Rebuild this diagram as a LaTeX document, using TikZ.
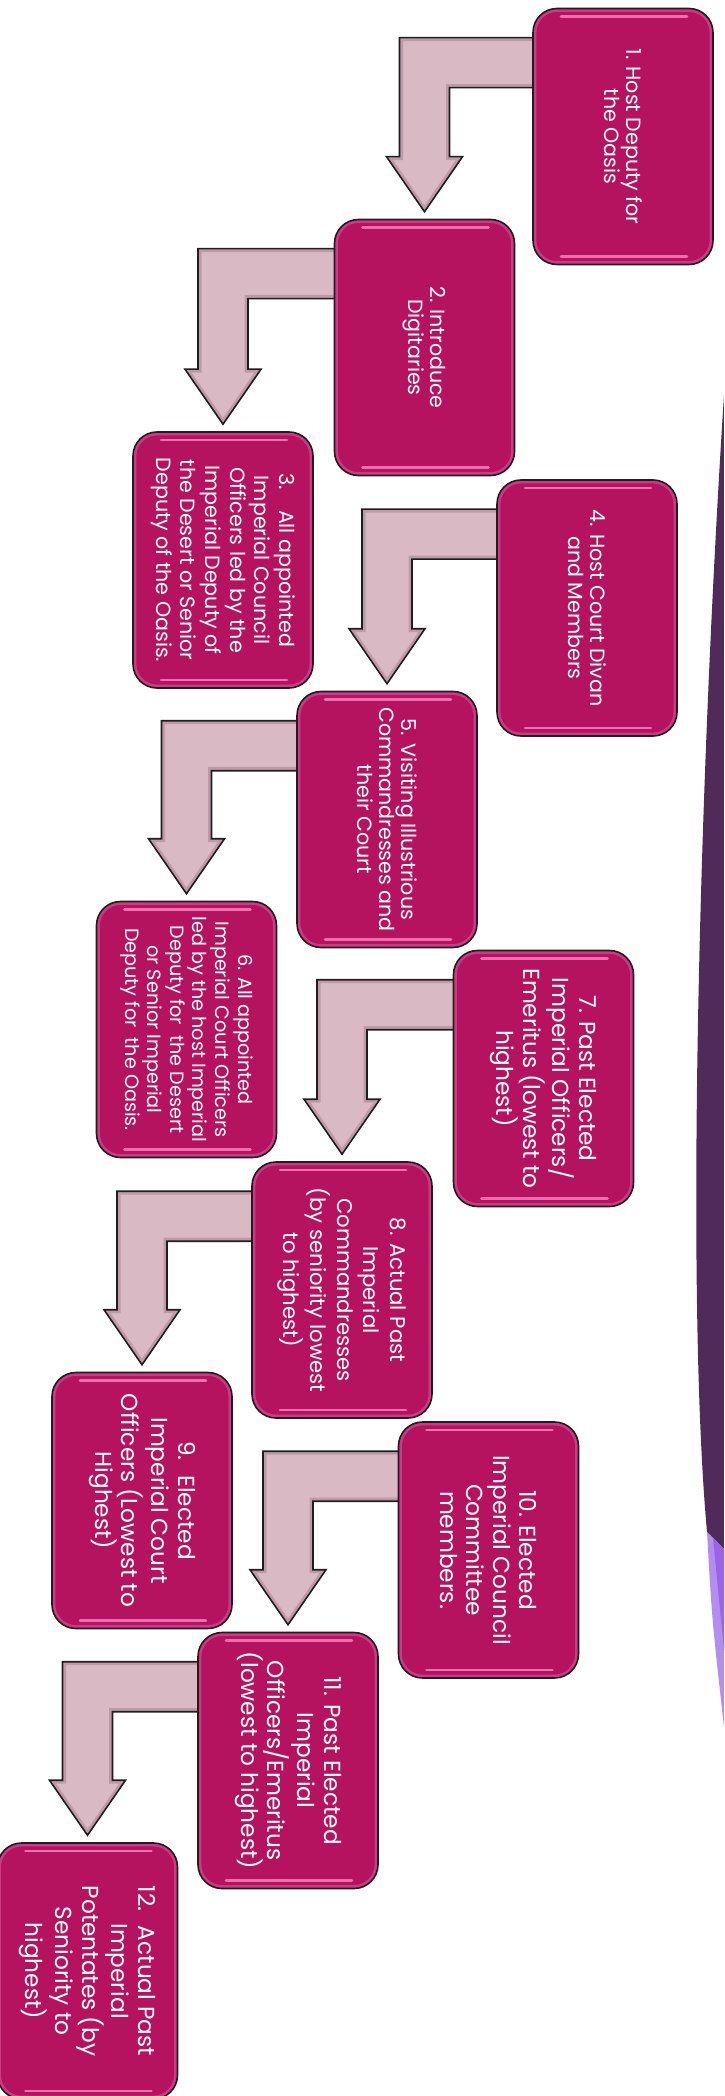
\documentclass[tikz,border=0pt]{standalone}
\usepackage{fontspec}
\setmainfont{Poppins}
\usetikzlibrary{calc,backgrounds}

\definecolor{boxfill}{RGB}{181,18,96}
\definecolor{boxline}{RGB}{30,30,30}
\definecolor{boxrim}{RGB}{204,58,130}
\definecolor{glosspink}{RGB}{236,112,176}
\definecolor{arrowfill}{RGB}{217,185,195}
\definecolor{arrowshade}{RGB}{190,154,168}
\definecolor{arrowline}{RGB}{30,30,30}
\definecolor{wedgedark}{RGB}{80,42,88}
\definecolor{wedgemid}{RGB}{112,52,106}
\definecolor{wedgelight}{RGB}{180,142,236}
\definecolor{wedgeviolet}{RGB}{155,100,232}

\tikzset{
  gloss/.style={draw=glosspink, line width=1.3pt, line cap=round},
  stepbox/.style={draw=boxline, line width=0.8pt, fill=boxfill, rounded corners=12pt,
    minimum width=90pt, minimum height=128pt, inner sep=0pt,
    path picture={
      \draw[boxrim, line width=1.4pt, rounded corners=11pt]
        ([shift={(1pt,-1pt)}]path picture bounding box.north west) rectangle
        ([shift={(-1pt,1pt)}]path picture bounding box.south east);
      \draw[gloss] ([shift={(14pt,-4pt)}]path picture bounding box.north west) --
        ([shift={(-13pt,-4pt)}]path picture bounding box.north east);
      \draw[gloss] ([shift={(14pt,4pt)}]path picture bounding box.south west) --
        ([shift={(-13pt,4pt)}]path picture bounding box.south east);
    }},
  boxtext/.style={rotate=-90, text=white, align=center, inner sep=0pt},
  smalltext/.style={font=\fontsize{10.3}{11}\selectfont},
  midtext/.style={font=\fontsize{10.3}{12.3}\selectfont},
  bigtext/.style={font=\fontsize{11.6}{13.3}\selectfont},
  bentarrow/.style={draw=arrowline, line width=0.8pt, line join=miter}
}

\begin{document}
\begin{tikzpicture}[x=0.5pt, y=-0.5pt]
  \useasboundingbox (0,0) rectangle (724,2096);

  % boxes
  \node[stepbox] (b1) at (623,136.5) {};
  \node[stepbox] (b2) at (424.5,347.5) {};
  \node[stepbox] (b3) at (223,560) {};
  \node[stepbox] (b4) at (587,608) {};
  \node[stepbox] (b5) at (387,819.5) {};
  \node[stepbox] (b6) at (186.5,1029.5) {};
  \node[stepbox] (b7) at (543.5,1078.5) {};
  \node[stepbox] (b8) at (342,1290) {};
  \node[stepbox] (b9) at (142,1500.5) {};
  \node[stepbox] (b10) at (488.5,1550) {};
  \node[stepbox] (b11) at (288,1760.5) {};
  \node[stepbox] (b12) at (87.5,1971) {};

  % texts
  \node[boxtext, smalltext] (t1) at (b1) {1. Host Deputy for\\the Oasis};
  \node[boxtext, smalltext] (t2) at (b2) {2. Introduce\\Digitaries};
  \node[boxtext, midtext] (t3) at (b3) {3.\quad All appointed\\Imperial Council\\Officers led by the\\Imperial Deputy of\\the Desert or Senior\\Deputy of the Oasis.};
  \node[boxtext, smalltext] (t4) at (b4) {4. Host Court Divan\\and Members};
  \node[boxtext, smalltext] (t5) at (b5) {5. Visiting Illustrious\\Commandresses and\\their Court};
  \node[boxtext, font=\fontsize{9.6}{11.3}\selectfont] (t6) at (b6) {6. All appointed\\Imperial Court Officers\\led by the host Imperial\\Deputy for~ the Desert\\or Senior Imperial\\Deputy for~ the Oasis.};
  \node[boxtext, bigtext] (t7) at (b7) {7. Past Elected\\Imperial Officers/\\Emeritus (lowest to\\highest)};
  \node[boxtext, font=\fontsize{10.6}{13.3}\selectfont] (t8) at (b8) {8. Actual Past\\Imperial\\Commandresses\\(by seniority lowest\\to highest)};
  \node[boxtext, bigtext] (t9) at (b9) {9.~ Elected\\Imperial Court\\Officers (Lowest to\\Highest)};
  \node[boxtext, bigtext] (t10) at (b10) {10. Elected\\Imperial Council\\Committee\\members.};
  \node[boxtext, bigtext] (t11) at (b11) {11. Past Elected\\Imperial\\Officers/Emeritus\\(lowest to highest)};
  \node[boxtext, bigtext] (t12) at (b12) {12.~ Actual Past\\Imperial\\Potentates (by\\Seniority to\\highest)};

  \begin{scope}[on background layer]
    \fill[white] (0,0) rectangle (724,2096);
    % purple wedge at the right edge
    \shade[top color=wedgedark, middle color=wedgemid, bottom color=wedgedark]
      (724,395) .. controls (698,800) and (686,1300) .. (707,1532) -- (724,1549) -- cycle;
    \fill[wedgelight] (707,1532) .. controls (712,1620) .. (724,1727) -- (724,1549) -- cycle;
    \fill[wedgeviolet] (713,1538) -- (724,1549) -- (724,1650) -- cycle;
    % bent arrows
    \foreach \s/\t in {b1/b2,b2/b3,b4/b5,b5/b6,b7/b8,b8/b9,b10/b11,b11/b12} {
      \path[save path=\arrowpath] let \p1=(\s.north west), \p2=(\t.north) in
        (\x1+5pt,\y1-15pt) -- (\x2-12.5pt,\y1-15pt) -- (\x2-12.5pt,\y2+31pt)
        -- (\x2-19pt,\y2+31pt) -- (\x2,\y2+3.5pt) -- (\x2+19pt,\y2+31pt)
        -- (\x2+12.5pt,\y2+31pt) -- (\x2+12.5pt,\y1-40pt) -- (\x1+5pt,\y1-40pt) -- cycle;
      \path[use path=\arrowpath, fill=arrowfill];
      \begin{scope}
        \clip[use path=\arrowpath];
        \path[use path=\arrowpath, draw=arrowshade, line width=3.5pt];
      \end{scope}
      \path[use path=\arrowpath, bentarrow];
    }
  \end{scope}
\end{tikzpicture}
\end{document}
